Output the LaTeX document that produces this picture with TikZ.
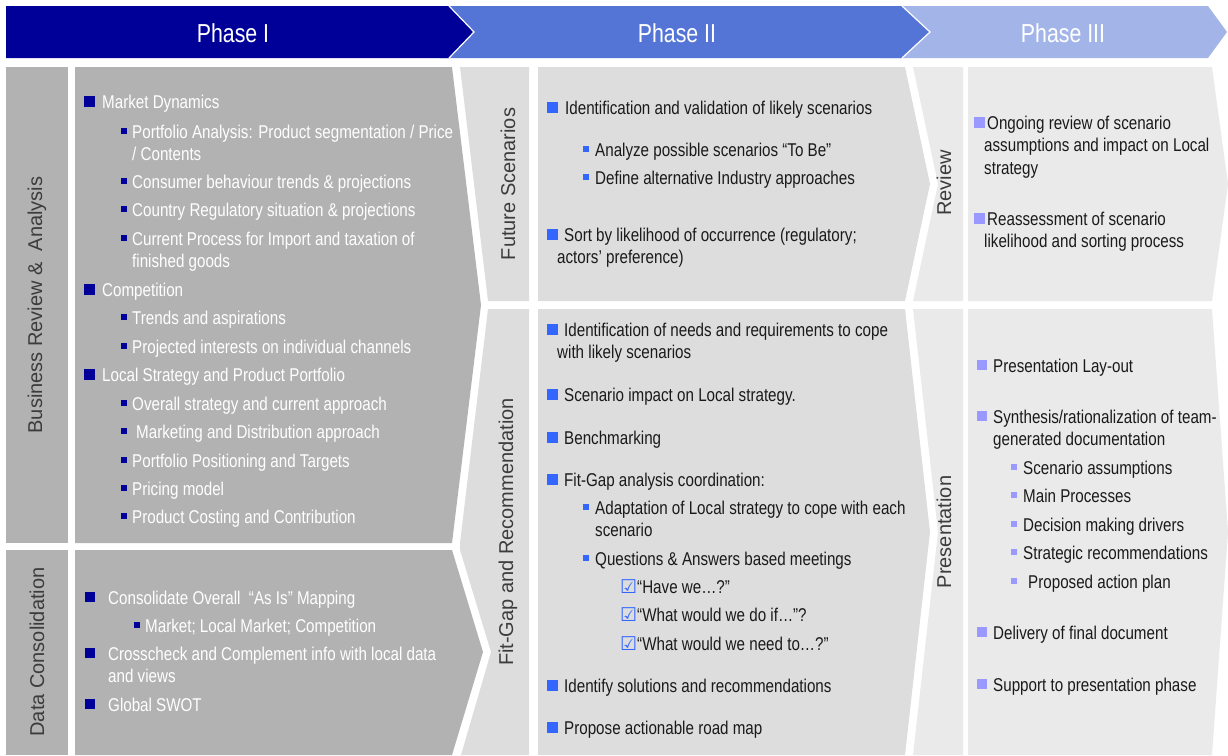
\documentclass[tikz,border=0pt]{standalone}
\usepackage{fontspec}
\setmainfont{Liberation Sans}[FakeStretch=0.82]
\newfontfamily\labelfont{Liberation Sans}
\newfontfamily\symfont{DejaVu Sans}
\usepackage{xcolor}
\usetikzlibrary{calc}

\definecolor{phaseI}{RGB}{0,0,153}
\definecolor{phaseII}{RGB}{84,117,214}
\definecolor{phaseIII}{RGB}{163,181,232}
\definecolor{grayI}{RGB}{178,178,178}
\definecolor{grayII}{RGB}{221,221,221}
\definecolor{grayIII}{RGB}{234,234,234}
\definecolor{bulII}{RGB}{51,102,255}
\definecolor{bulIII}{RGB}{153,153,255}
\definecolor{ink}{RGB}{26,26,26}
\definecolor{lblgray}{RGB}{60,60,60}

% square bullet + text: name, square x, text x, line y, size, colour, style, text
\newcommand{\sqitem}[8]{%
  \fill[#6] (#2,{#4-#5/2}) rectangle ++(#5,#5);
  \node[#7] (#1) at (#3,{#4+7}) {\begin{tabular}[t]{@{}l@{}}#8\end{tabular}};}
\newcommand{\tick}{{\symfont\fontsize{19}{20}\selectfont\textcolor{bulII}{☑}}}

\begin{document}
\begin{tikzpicture}[x=1pt, y=-1pt,
    every node/.style={inner sep=0pt},
    body/.style={font=\fontsize{18.5}{22.5}\selectfont, anchor=base west},
    txtI/.style={body, text=white},
    txtII/.style={body, text=ink},
    phase/.style={font=\fontsize{26}{30}\selectfont, text=white},
    lbl/.style={font=\labelfont\fontsize{20}{24}\selectfont, text=lblgray, rotate=90}]
    \useasboundingbox (0,0) rectangle (1228,755);

    % Phase headers
    \fill[phaseIII] (880,6) -- (1208,6) -- (1227,32) -- (1208,58) -- (880,58) -- cycle;
    \fill[phaseII] (440,6) -- (902,6) -- (930,32) -- (902,58) -- (440,58) -- cycle;
    \draw[white, line width=1.2pt] (902,6) -- (930,32) -- (902,58);
    \fill[phaseI] (6,6) -- (449,6) -- (474,32) -- (449,58) -- (6,58) -- cycle;
    \draw[white, line width=1.2pt] (449,6) -- (474,32) -- (449,58);
    \node[phase] (p1) at (233,33) {Phase I};
    \node[phase] (p2) at (677,33) {Phase II};
    \node[phase] (p3) at (1063,33) {Phase III};

    % Phase I boxes
    \fill[grayI] (6,67) rectangle (68,543);
    \fill[grayI] (6,550) rectangle (68,755);
    \fill[grayI] (75,67) -- (452,67) -- (481,305) -- (452,543) -- (75,543) -- cycle;
    \fill[grayI] (75,550) -- (452,550) -- (483,652) -- (452,755) -- (75,755) -- cycle;

    % Phase II boxes
    \fill[grayII] (460,67) -- (529,67) -- (529,301) -- (488,301) -- cycle;
    \fill[grayII] (488,309) -- (529,309) -- (529,755) -- (461,755) -- (491,652)
        -- (460,550) -- (460,543) -- cycle;
    \fill[grayII] (538,67) -- (905,67) -- (930,184) -- (905,301) -- (538,301) -- cycle;
    \fill[grayII] (538,309) -- (905,309) -- (930,532) -- (905,755) -- (538,755) -- cycle;

    % Phase III boxes
    \fill[grayIII] (913,67) -- (963,67) -- (963,301) -- (913,301) -- (938,184) -- cycle;
    \fill[grayIII] (913,309) -- (963,309) -- (963,755) -- (913,755) -- (938,532) -- cycle;
    \fill[grayIII] (968,67) -- (1212,67) -- (1228,184) -- (1212,301) -- (968,301) -- cycle;
    \fill[grayIII] (968,309) -- (1212,309) -- (1228,532) -- (1212,755) -- (968,755) -- cycle;

    % Row labels
    \node[lbl] (bra) at (37,305) {Business Review \&\ \ Analysis};
    \node[lbl] (dc) at (37,652) {Data Consolidation};
    \node[lbl] (fs) at (508,184) {Future Scenarios};
    \node[lbl] (fgr) at (508,532) {Fit-Gap and Recommendation};
    \node[lbl] (rev) at (944,183) {Review};
    \node[lbl] (pres) at (944,532) {Presentation};

    % Business Review & Analysis
    \sqitem{md}{84}{102}{101}{11}{phaseI}{txtI}{Market Dynamics}
    \sqitem{pa}{121}{132}{131}{6}{phaseI}{txtI}{Portfolio Analysis: Product segmentation / Price\\/ Contents}
    \sqitem{cb}{121}{132}{181}{6}{phaseI}{txtI}{Consumer behaviour trends \& projections}
    \sqitem{cr}{121}{132}{209}{6}{phaseI}{txtI}{Country Regulatory situation \& projections}
    \sqitem{cp}{121}{132}{238}{6}{phaseI}{txtI}{Current Process for Import and taxation of\\finished goods}
    \sqitem{co}{84}{102}{289}{11}{phaseI}{txtI}{Competition}
    \sqitem{ta}{121}{132}{317}{6}{phaseI}{txtI}{Trends and aspirations}
    \sqitem{pi}{121}{132}{346}{6}{phaseI}{txtI}{Projected interests on individual channels}
    \sqitem{ls}{84}{102}{374}{11}{phaseI}{txtI}{Local Strategy and Product Portfolio}
    \sqitem{os}{121}{132}{403}{6}{phaseI}{txtI}{Overall strategy and current approach}
    \sqitem{mda}{121}{136}{431}{6}{phaseI}{txtI}{Marketing and Distribution approach}
    \sqitem{pp}{121}{132}{460}{6}{phaseI}{txtI}{Portfolio Positioning and Targets}
    \sqitem{pm}{121}{132}{488}{6}{phaseI}{txtI}{Pricing model}
    \sqitem{pc}{121}{132}{516}{6}{phaseI}{txtI}{Product Costing and Contribution}

    % Data Consolidation
    \sqitem{ca}{85}{108}{597}{10}{phaseI}{txtI}{Consolidate Overall \ “As Is” Mapping}
    \sqitem{ml}{134}{145}{625}{6}{phaseI}{txtI}{Market; Local Market; Competition}
    \sqitem{cc}{85}{108}{653}{10}{phaseI}{txtI}{Crosscheck and Complement info with local data\\and views}
    \sqitem{gs}{85}{108}{704}{10}{phaseI}{txtI}{Global SWOT}

    % Future Scenarios
    \sqitem{iv}{547}{565}{107}{11}{bulII}{txtII}{Identification and validation of likely scenarios}
    \sqitem{ap}{583}{595}{149}{6}{bulII}{txtII}{Analyze possible scenarios “To Be”}
    \sqitem{da}{583}{595}{177}{6}{bulII}{txtII}{Define alternative Industry approaches}
    \sqitem{sl}{547}{564}{234}{11}{bulII}{txtII}{Sort by likelihood of occurrence (regulatory;\\\hspace*{-7pt}actors’ preference)}

    % Fit-Gap and Recommendation
    \sqitem{in}{547}{564}{329}{11}{bulII}{txtII}{Identification of needs and requirements to cope\\\hspace*{-7pt}with likely scenarios}
    \sqitem{si}{547}{564}{394}{11}{bulII}{txtII}{Scenario impact on Local strategy.}
    \sqitem{bm}{547}{564}{437}{11}{bulII}{txtII}{Benchmarking}
    \sqitem{fg}{547}{564}{479}{11}{bulII}{txtII}{Fit-Gap analysis coordination:}
    \sqitem{al}{583}{595}{507}{6}{bulII}{txtII}{Adaptation of Local strategy to cope with each\\scenario}
    \sqitem{qa}{583}{595}{558}{6}{bulII}{txtII}{Questions \& Answers based meetings}
    \node[txtII] (hw) at (620,593) {\tick“Have we…?”};
    \node[txtII] (ww) at (620,621) {\tick“What would we do if…”?};
    \node[txtII] (wn) at (620,650) {\tick“What would we need to…?”};
    \sqitem{is}{547}{564}{685}{11}{bulII}{txtII}{Identify solutions and recommendations}
    \sqitem{pr}{547}{564}{727}{11}{bulII}{txtII}{Propose actionable road map}

    % Review
    \sqitem{or}{974}{987}{122}{11}{bulIII}{txtII}{Ongoing review of scenario\\\hspace*{-3pt}assumptions and impact on Local\\\hspace*{-3pt}strategy}
    \sqitem{ra}{974}{987}{218}{11}{bulIII}{txtII}{Reassessment of scenario\\\hspace*{-3pt}likelihood and sorting process}

    % Presentation
    \sqitem{pl}{977}{993}{365}{10}{bulIII}{txtII}{Presentation Lay-out}
    \sqitem{sr}{977}{993}{416}{10}{bulIII}{txtII}{Synthesis/rationalization of team-\\generated documentation}
    \sqitem{sa}{1011}{1023}{467}{6}{bulIII}{txtII}{Scenario assumptions}
    \sqitem{mp}{1011}{1023}{495}{6}{bulIII}{txtII}{Main Processes}
    \sqitem{dm}{1011}{1023}{524}{6}{bulIII}{txtII}{Decision making drivers}
    \sqitem{st}{1011}{1023}{552}{6}{bulIII}{txtII}{Strategic recommendations}
    \sqitem{pap}{1011}{1028}{581}{6}{bulIII}{txtII}{Proposed action plan}
    \sqitem{df}{977}{993}{632}{10}{bulIII}{txtII}{Delivery of final document}
    \sqitem{sp}{977}{993}{684}{10}{bulIII}{txtII}{Support to presentation phase}
\end{tikzpicture}
\end{document}
